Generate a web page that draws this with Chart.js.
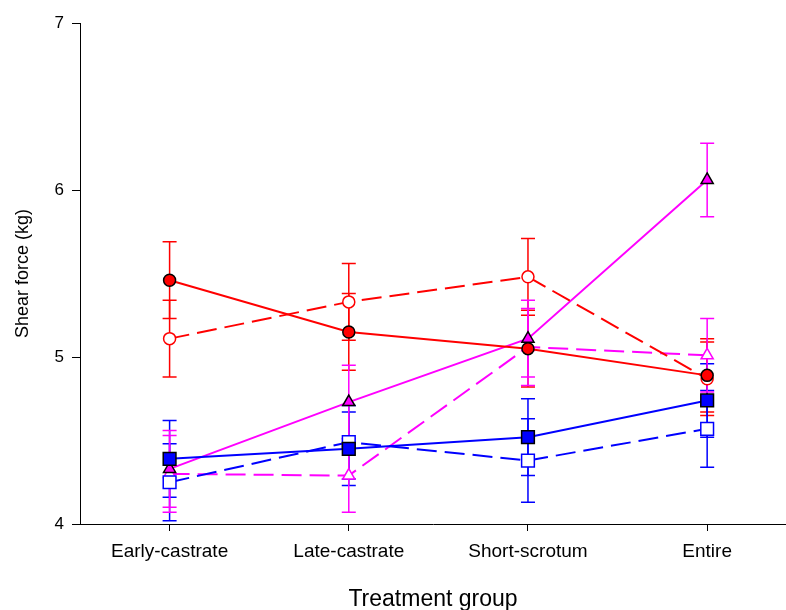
<!DOCTYPE html>
<html>
<head>
<meta charset="utf-8">
<script src="https://cdn.jsdelivr.net/npm/chart.js@4"></script>
<style>
  html, body { margin: 0; padding: 0; background: #fff; }
  #wrap { width: 786px; height: 610px; }
</style>
</head>
<body>
<div id="wrap"><canvas id="myChart" width="786" height="610"></canvas></div>
<script>
const groups = ["Early-castrate", "Late-castrate", "Short-scrotum", "Entire"];
const yTicks = [4, 5, 6, 7];

// means and standard errors per treatment group
const redSolid = [5.46, 5.15, 5.05, 4.89];
const redSolidErr = [0.23, 0.23, 0.23, 0.22];
const redDashed = [5.11, 5.33, 5.48, 4.87];
const redDashedErr = [0.23, 0.23, 0.23, 0.22];
const magSolid = [4.33, 4.73, 5.11, 6.06];
const magSolidErr = [0.23, 0.22, 0.23, 0.22];
const magDashed = [4.30, 4.29, 5.06, 5.01];
const magDashedErr = [0.23, 0.22, 0.23, 0.22];
const blueSolid = [4.39, 4.45, 4.52, 4.74];
const blueSolidErr = [0.23, 0.22, 0.23, 0.22];
const blueDashed = [4.25, 4.49, 4.38, 4.57];
const blueDashedErr = [0.23, 0.22, 0.25, 0.23];

const FONT = "'Liberation Sans', Arial, sans-serif";

function pts(vals) {
  return vals.map((v, i) => ({ x: i + 1, y: v }));
}

// marker radius per shape (Chart.js draws "rect" smaller than its radius)
const markerSize = { circle: 6, triangle: 7, rect: 9 };

function serie(vals, errs, color, shape, filled, dashed) {
  return {
    data: pts(vals),
    errors: errs,
    borderColor: color,
    borderWidth: 2,
    borderDash: dashed ? [20, 8] : [],
    pointStyle: shape,
    pointRadius: markerSize[shape],
    pointBackgroundColor: filled ? color : "#ffffff",
    pointBorderColor: filled ? "#000000" : color,
    pointBorderWidth: 1.5,
    tension: 0,
    fill: false,
  };
}

// vertical error bars with caps, drawn under the lines
const errorBars = {
  id: "errorBars",
  beforeDatasetsDraw(chart) {
    const ctx = chart.ctx;
    const xs = chart.scales.x;
    const ys = chart.scales.y;
    ctx.save();
    chart.data.datasets.forEach((ds) => {
      ctx.strokeStyle = ds.borderColor;
      ctx.lineWidth = 1.5;
      ds.data.forEach((p, i) => {
        const e = ds.errors[i];
        const px = xs.getPixelForValue(p.x);
        const top = ys.getPixelForValue(p.y + e);
        const bot = ys.getPixelForValue(p.y - e);
        ctx.beginPath();
        ctx.moveTo(px, top);
        ctx.lineTo(px, bot);
        ctx.moveTo(px - 7, top);
        ctx.lineTo(px + 7, top);
        ctx.moveTo(px - 7, bot);
        ctx.lineTo(px + 7, bot);
        ctx.stroke();
      });
    });
    ctx.restore();
  },
};

new Chart(document.getElementById("myChart"), {
  type: "line",
  data: {
    datasets: [
      serie(redSolid, redSolidErr, "#ff0000", "circle", true, false),
      serie(redDashed, redDashedErr, "#ff0000", "circle", false, true),
      serie(blueSolid, blueSolidErr, "#0000ff", "rect", true, false),
      serie(blueDashed, blueDashedErr, "#0000ff", "rect", false, true),
      serie(magSolid, magSolidErr, "#ff00ff", "triangle", true, false),
      serie(magDashed, magDashedErr, "#ff00ff", "triangle", false, true),
    ],
  },
  options: {
    responsive: false,
    animation: false,
    layout: { autoPadding: false, padding: { top: 23, right: 0, left: 0, bottom: 0 } },
    plugins: {
      legend: { display: false },
      tooltip: { enabled: false },
    },
    scales: {
      x: {
        type: "linear",
        min: 0.5,
        max: 4.44,
        afterBuildTicks: (scale) => {
          scale.ticks = groups.map((g, i) => ({ value: i + 1 }));
        },
        afterFit: (scale) => {
          scale.height = 86;
        },
        ticks: {
          color: "#000",
          font: { family: FONT, size: 19 },
          padding: 9,
          maxRotation: 0,
          callback: (v) => groups[v - 1],
        },
        grid: {
          drawOnChartArea: false,
          drawTicks: true,
          tickLength: 7,
          color: "#000",
        },
        border: { display: true, color: "#000", width: 1 },
        title: {
          display: true,
          text: "Treatment group",
          color: "#000",
          font: { family: FONT, size: 23 },
          padding: { top: 0, bottom: -3 },
        },
      },
      y: {
        min: 4,
        max: 7,
        afterBuildTicks: (scale) => {
          scale.ticks = yTicks.map((v) => ({ value: v }));
        },
        afterFit: (scale) => {
          scale.width = 80;
        },
        ticks: {
          color: "#000",
          font: { family: FONT, size: 17 },
          padding: 8,
        },
        grid: {
          drawOnChartArea: false,
          drawTicks: true,
          tickLength: 8,
          color: "#000",
        },
        border: { display: true, color: "#000", width: 1 },
        title: {
          display: true,
          text: "Shear force (kg)",
          color: "#000",
          font: { family: FONT, size: 18 },
          padding: { top: 12, bottom: 0 },
        },
      },
    },
  },
  plugins: [errorBars],
});
</script>
</body>
</html>
